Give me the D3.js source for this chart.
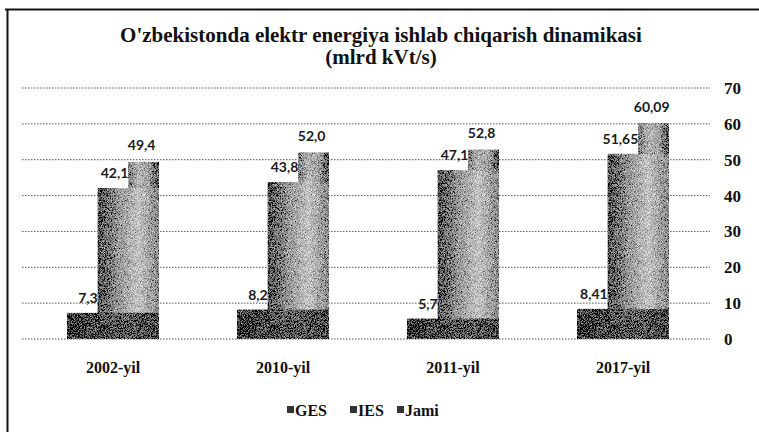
<!DOCTYPE html>
<html>
<head>
<meta charset="utf-8">
<script src="https://cdn.jsdelivr.net/npm/d3@7"></script>
<style>
  body { margin: 0; background: #fff; }
  svg { display: block; }
</style>
</head>
<body>
<script>
let width = 759
let height = 432

// data
let years = ['2002-yil', '2010-yil', '2011-yil', '2017-yil']
let series = ['GES', 'IES', 'Jami']
let ges = [7.3, 8.2, 5.7, 8.41]
let ies = [42.1, 43.8, 47.1, 51.65]
let jami = [49.4, 52.0, 52.8, 60.09]
let gesLabels = ['7,3', '8,2', '5,7', '8,41']
let iesLabels = ['42,1', '43,8', '47,1', '51,65']
let jamiLabels = ['49,4', '52,0', '52,8', '60,09']
let ticks = [0, 10, 20, 30, 40, 50, 60, 70]

let values = { GES: ges, IES: ies, Jami: jami }
let labels = { GES: gesLabels, IES: iesLabels, Jami: jamiLabels }

let svg = d3.select('body').append('svg')
  .attr('width', width)
  .attr('height', height)

let defs = svg.append('defs')

// grainy scan look
let grain = defs.append('filter').attr('id', 'grain')
  .attr('x', '0').attr('y', '0').attr('width', '1').attr('height', '1')
grain.append('feTurbulence')
  .attr('type', 'fractalNoise').attr('baseFrequency', 1.3)
  .attr('numOctaves', 2).attr('seed', 4).attr('result', 'n')
grain.append('feColorMatrix').attr('in', 'n').attr('type', 'matrix')
  .attr('values', '1 0 0 0 0 1 0 0 0 0 1 0 0 0 0 0 0 0 0 1')
  .attr('result', 'g')
grain.append('feComposite').attr('in', 'SourceGraphic').attr('in2', 'g')
  .attr('operator', 'arithmetic')
  .attr('k1', 0).attr('k2', 1).attr('k3', 1.2).attr('k4', -0.58)
  .attr('result', 'm')
grain.append('feComposite').attr('in', 'm').attr('in2', 'SourceGraphic').attr('operator', 'in')

let gradStops = {
  GES: ['#202020', '#3c3c3c', '#585858', '#303030'],
  IES: ['#444', '#939393', '#c0c0c0', '#858585'],
  Jami: ['#777', '#b2b2b2', '#a2a2a2', '#404040']
}
series.forEach(s => {
  let g = defs.append('linearGradient').attr('id', 'grad-' + s)
    .attr('x1', 0).attr('x2', 1).attr('y1', 0).attr('y2', 0)
  gradStops[s].forEach((c, i) => {
    g.append('stop').attr('offset', i / (gradStops[s].length - 1)).attr('stop-color', c)
  })
})

// frame
svg.append('line').attr('x1', 5).attr('x2', width).attr('y1', 9.5).attr('y2', 9.5)
  .attr('stroke', '#111').attr('stroke-width', 2)
svg.append('line').attr('x1', 7.5).attr('x2', 7.5).attr('y1', 9).attr('y2', height)
  .attr('stroke', '#111').attr('stroke-width', 2)

// title
let serif = "'Liberation Serif', 'Times New Roman', serif"
svg.append('text').attr('x', 381).attr('y', 42)
  .attr('text-anchor', 'middle').attr('font-family', serif)
  .attr('font-weight', 'bold').attr('font-size', 21).attr('fill', '#111')
  .text("O'zbekistonda elektr energiya ishlab chiqarish dinamikasi")
svg.append('text').attr('x', 381).attr('y', 64)
  .attr('text-anchor', 'middle').attr('font-family', serif)
  .attr('font-weight', 'bold').attr('font-size', 21).attr('fill', '#111')
  .text('(mlrd kVt/s)')

//scales
let xScale = d3.scaleBand().domain(years).range([28, 708])
let yScale = d3.scaleLinear().domain([0, 70]).range([339, 88])
let groupOffset = 39
let groupWidth = 92
let xSub = d3.scaleBand().domain(series).range([0, groupWidth])

// gridlines
svg.append('g').selectAll('line')
  .data(ticks)
  .enter()
  .append('line')
  .attr('x1', 22).attr('x2', 710)
  .attr('y1', d => yScale(d)).attr('y2', d => yScale(d))
  .attr('stroke', '#555').attr('stroke-width', 1)
  .attr('stroke-dasharray', '1.5,1.5')

// y axis on the right
let yAxis = d3.axisRight(yScale).tickValues(ticks).tickSize(0).tickPadding(0)
let ay = svg.append('g').attr('transform', 'translate(724,0)').call(yAxis)
ay.select('.domain').remove()
ay.selectAll('text')
  .attr('font-family', serif).attr('font-weight', 'bold')
  .attr('font-size', 17).attr('fill', '#111').attr('x', 0)

// x axis labels
let xAxis = d3.axisBottom(xScale).tickSize(0).tickPadding(0)
let ax = svg.append('g').attr('transform', 'translate(0,360)').call(xAxis)
ax.select('.domain').remove()
ax.selectAll('text')
  .attr('font-family', serif).attr('font-weight', 'bold')
  .attr('font-size', 16).attr('fill', '#111').attr('dy', '0.8em')

// bars: staircase, back to front, all ending at group's right edge
let groups = svg.append('g').selectAll('g')
  .data(years)
  .enter()
  .append('g')
  .attr('transform', d => `translate(${xScale(d) + groupOffset},0)`)

series.slice().reverse().forEach(s => {
  groups.append('rect')
    .attr('x', xSub(s))
    .attr('width', groupWidth - xSub(s))
    .attr('y', (d, i) => yScale(values[s][i]))
    .attr('height', (d, i) => yScale(0) - yScale(values[s][i]))
    .attr('fill', `url(#grad-${s})`)
    .attr('filter', 'url(#grain)')
})

// value labels
let sans = "Lato, 'Liberation Sans', sans-serif"
series.forEach(s => {
  groups.append('text')
    .attr('x', s === 'Jami' ? xSub(s) + xSub.bandwidth() / 2 - 2 : xSub(s) + xSub.bandwidth())
    .attr('y', (d, i) => yScale(values[s][i]) - (s === 'Jami' ? 12 : 10))
    .attr('text-anchor', s === 'Jami' ? 'middle' : 'end')
    .attr('font-family', sans).attr('font-weight', 'bold')
    .attr('font-size', 14).attr('fill', '#1a1a1a')
    .text((d, i) => labels[s][i])
})

// legend
let legendX = [287, 350, 397]
let legend = svg.append('g').selectAll('g')
  .data(series)
  .enter()
  .append('g')
  .attr('transform', (d, i) => `translate(${legendX[i]},416)`)
legend.append('rect')
  .attr('x', 0).attr('y', -10).attr('width', 7).attr('height', 7)
  .attr('fill', '#333')
legend.append('text')
  .attr('x', 8).attr('y', 0)
  .attr('font-family', serif).attr('font-weight', 'bold')
  .attr('font-size', 16).attr('fill', '#111')
  .text(d => d)
</script>
</body>
</html>
